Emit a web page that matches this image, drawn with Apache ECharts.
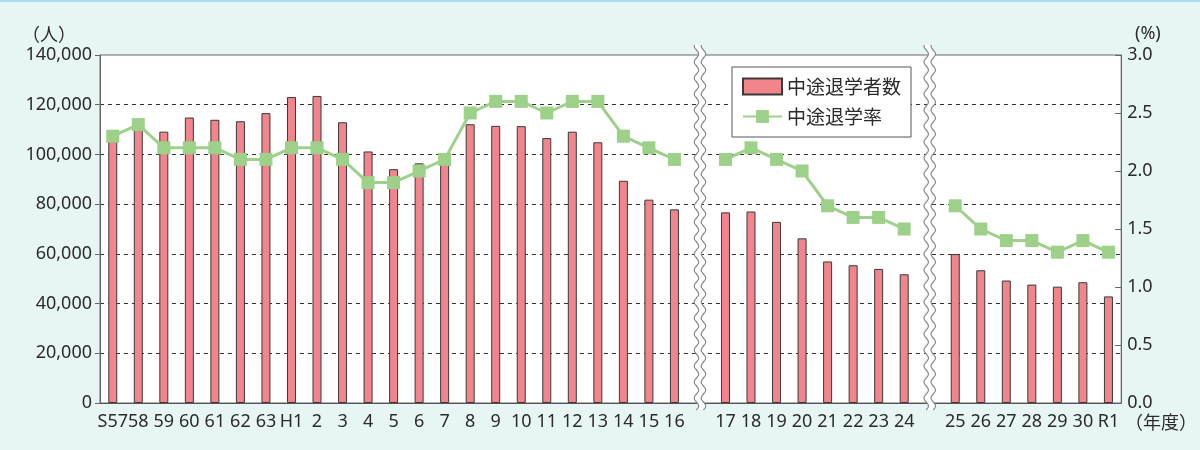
<!DOCTYPE html>
<html>
<head>
<meta charset="utf-8">
<style>
  html, body { margin: 0; padding: 0; background: #e8f5f5; }
  #main { width: 1200px; height: 450px; border-top: 2px solid #aadcee; box-sizing: border-box; }
</style>
<script src="https://cdn.jsdelivr.net/npm/echarts@6/dist/echarts.min.js"></script>
</head>
<body>
<div id="main"></div>
<script>
// 年度 ('' = 省略の区切り)
var years = ['S57', '58', '59', '60', '61', '62', '63', 'H1', '2', '3', '4', '5', '6', '7', '8', '9', '10',
  '11', '12', '13', '14', '15', '16', '',
  '17', '18', '19', '20', '21', '22', '23', '24', '',
  '25', '26', '27', '28', '29', '30', 'R1'];

// 中途退学者数（人）
var dropouts = [106041, 111531, 109160, 114834, 113938, 113357, 116617, 123069, 123529, 112933,
  101194, 94065, 96401, 98179, 112150, 111491, 111372, 106578, 109146, 104894, 89409, 81799, 77897, null,
  76693, 77027, 72854, 66243, 56947, 55415, 53937, 51781, null,
  59923, 53391, 49263, 47623, 46802, 48594, 42882];

// 中途退学率（%）
var rates = [2.3, 2.4, 2.2, 2.2, 2.2, 2.1, 2.1, 2.2, 2.2, 2.1, 1.9, 1.9, 2.0, 2.1, 2.5, 2.6, 2.6, 2.5,
  2.6, 2.6, 2.3, 2.2, 2.1, null,
  2.1, 2.2, 2.1, 2.0, 1.7, 1.6, 1.6, 1.5, null,
  1.7, 1.5, 1.4, 1.4, 1.3, 1.4, 1.3];

var breakIdx = [23, 32];

var font = '"Noto Sans", "Noto Sans CJK JP", sans-serif';
var jp = '"Noto Sans CJK JP", sans-serif';
var txt = '#2b2b2b';

var myChart = echarts.init(document.getElementById('main'));

var option = {
  animation: false,
  textStyle: { fontFamily: font },
  grid: {
    left: 100, right: 73, top: 53, bottom: 47,
    show: true, backgroundColor: '#fff', borderColor: '#666', borderWidth: 1
  },
  legend: {
    orient: 'vertical',
    left: 732, top: 65,
    padding: [10, 10, 11, 10],
    backgroundColor: '#fff',
    borderColor: '#555', borderWidth: 1,
    itemWidth: 39, itemHeight: 16, itemGap: 11,
    textStyle: { fontSize: 19, color: txt, fontFamily: jp },
    data: [{ name: '中途退学者数', icon: 'rect' }, { name: '中途退学率' }]
  },
  xAxis: {
    type: 'category',
    data: years,
    name: '（年度）',
    nameLocation: 'end',
    nameGap: 0,
    nameTextStyle: {
      fontSize: 18, color: txt, align: 'left', verticalAlign: 'top',
      padding: [10, 0, 0, 0], fontFamily: jp
    },
    axisLine: { lineStyle: { color: '#555' } },
    axisTick: { show: false },
    axisLabel: { interval: 0, fontSize: 18, color: txt, margin: 10 }
  },
  yAxis: [
    {
      type: 'value',
      min: 0, max: 140000, interval: 20000,
      name: '（人）',
      nameGap: 12,
      nameTextStyle: { fontSize: 18, color: txt, align: 'right', padding: [0, 24, 0, 0], fontFamily: jp },
      axisLine: { show: true, lineStyle: { color: '#666' } },
      axisTick: { show: true, length: 5, lineStyle: { color: '#666' } },
      axisLabel: {
        fontSize: 18, color: txt, margin: 8,
        formatter: function (v) { return v.toLocaleString('en-US'); }
      },
      splitLine: { showMinLine: false, showMaxLine: false, lineStyle: { color: '#333', type: [4, 4], width: 1 } }
    },
    {
      type: 'value',
      min: 0, max: 3, interval: 0.5,
      axisLine: { show: true, lineStyle: { color: '#666' } },
      axisTick: { show: true, inside: true, length: 6, lineStyle: { color: '#666' } },
      axisLabel: {
        fontSize: 18, color: txt, margin: 6,
        formatter: function (v) { return v.toFixed(1); }
      },
      splitLine: { show: false }
    }
  ],
  series: [
    {
      name: '中途退学者数',
      type: 'bar',
      data: dropouts,
      barWidth: 9,
      itemStyle: { color: '#f2848c', borderColor: '#3a3a3a', borderWidth: 1 }
    },
    {
      name: '中途退学率',
      type: 'line',
      yAxisIndex: 1,
      data: rates,
      connectNulls: false,
      symbol: 'rect',
      symbolSize: 13,
      z: 5,
      lineStyle: { color: '#9dd089', width: 3 },
      itemStyle: { color: '#9dd089' }
    }
  ]
};

myChart.setOption(option);

// 省略（波線）の区切り
function wave(cx, y0, y1) {
  var left = [], right = [];
  for (var y = y0; y <= y1; y += 1) {
    var d = 2.2 * Math.sin(y / 16 * Math.PI * 2);
    left.push([cx - 3.5 + d, y]);
    right.push([cx + 3.5 + d, y]);
  }
  return { left: left, right: right };
}

var topY = myChart.convertToPixel({ yAxisIndex: 0 }, 140000);
var bottomY = myChart.convertToPixel({ yAxisIndex: 0 }, 0);
var rightX = myChart.getWidth() - 73;

var graphics = [];
breakIdx.forEach(function (i) {
  var cx = myChart.convertToPixel({ xAxisIndex: 0 }, i);
  var w = wave(cx, topY - 10, bottomY + 7);
  graphics.push({
    type: 'polygon', z: 100,
    shape: { points: w.left.concat(w.right.slice().reverse()) },
    style: { fill: '#fff', stroke: null }
  });
  graphics.push({
    type: 'polyline', z: 101,
    shape: { points: w.left },
    style: { stroke: '#888', lineWidth: 1.2, fill: null }
  });
  graphics.push({
    type: 'polyline', z: 101,
    shape: { points: w.right },
    style: { stroke: '#888', lineWidth: 1.2, fill: null }
  });
});

// 右軸の単位
graphics.push({
  type: 'text', z: 101,
  x: rightX + 8, y: topY - 12,
  style: {
    text: '(%)', fontSize: 18, fill: txt, fontFamily: font,
    align: 'left', textAlign: 'left', verticalAlign: 'bottom', textVerticalAlign: 'bottom'
  }
});

myChart.setOption({ graphic: graphics });
</script>
</body>
</html>
